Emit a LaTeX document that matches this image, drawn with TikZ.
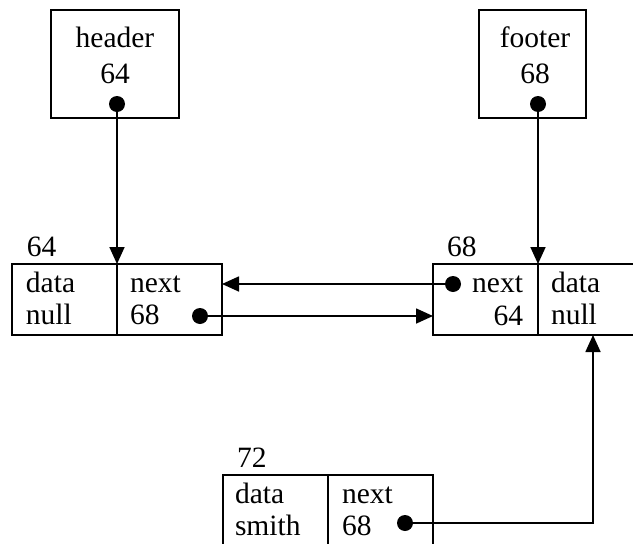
\documentclass[tikz,border=0pt]{standalone}
\usepackage{fontspec}
\setmainfont{Liberation Serif}
\usetikzlibrary{arrows.meta}
\begin{document}
\begin{tikzpicture}[x=1pt,y=-1pt,
  line width=1.7pt,
  every node/.style={inner sep=0pt,outer sep=0pt,font=\fontsize{29.5}{34}\selectfont},
  cell/.style={draw,anchor=north west,minimum width=105pt,minimum height=71pt},
  ptrbox/.style={draw,anchor=north west,minimum height=108pt},
  txt/.style={anchor=base west},
  rtxt/.style={anchor=base east},
  ctxt/.style={anchor=base},
  link/.style={-{Triangle[length=17pt,width=15pt]}},
  dot/.style={fill=black}]
\useasboundingbox (0,0) rectangle (633,544);
\clip (0,0) rectangle (633,544);

% header and footer pointer boxes
\node[ptrbox,minimum width=128pt] (hdr) at (51,10) {};
\node[ctxt] (hdrname) at (115,47) {header};
\node[ctxt] (hdrval) at (115,83) {64};
\coordinate (hdot) at (117,104);

\node[ptrbox,minimum width=107pt] (ftr) at (479,10) {};
\node[ctxt] (ftrname) at (535,47) {footer};
\node[ctxt] (ftrval) at (535,83) {68};
\coordinate (fdot) at (538,104);

% list node at address 64
\node[txt] (addr64) at (27,256) {64};
\node[cell] (aD) at (12,264) {};
\node[cell] (aN) at (117,264) {};
\node[txt] (aD1) at (26,292) {data};
\node[txt] (aD2) at (26,324) {null};
\node[txt] (aN1) at (130,292) {next};
\node[txt] (aN2) at (130,324) {68};
\coordinate (adot) at (200,316);

% list node at address 68
\node[txt] (addr68) at (447,256) {68};
\node[cell] (bN) at (433,264) {};
\node[cell] (bD) at (538,264) {};
\node[rtxt] (bN1) at (523,292) {next};
\node[rtxt] (bN2) at (523,325) {64};
\node[txt] (bD1) at (551,292) {data};
\node[txt] (bD2) at (551,324) {null};
\coordinate (bdot) at (453,284);

% list node at address 72
\node[txt] (addr72) at (237,467) {72};
\node[cell] (cD) at (223,475) {};
\node[cell] (cN) at (328,475) {};
\node[txt] (cD1) at (235,503) {data};
\node[txt] (cD2) at (235,535) {smith};
\node[txt] (cN1) at (342,503) {next};
\node[txt] (cN2) at (342,535) {68};
\coordinate (cdot) at (405,523);
\coordinate (cbend) at (593,523);

% pointer dots
\foreach \p in {hdot,fdot,adot,bdot,cdot}
  \fill[dot] (\p) circle (8pt);

% links
\draw[link] (hdot) -- (aN.north west);
\draw[link] (fdot) -- (bN.north east);
\draw[link] (adot) -- (adot -| bN.west);
\draw[link] (bdot) -- (bdot -| aN.east);
\draw[link] (cdot) -- (cbend) -- (cbend |- bD.south);
\end{tikzpicture}
\end{document}
